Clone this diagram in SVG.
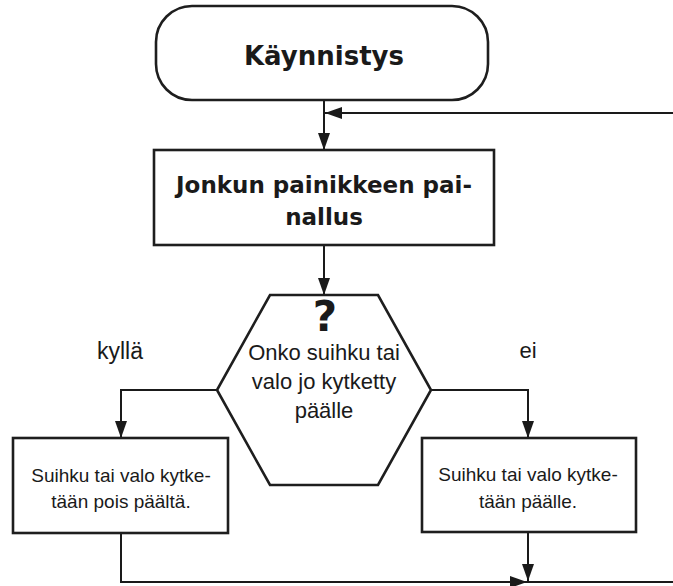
<svg xmlns="http://www.w3.org/2000/svg" width="673" height="586" viewBox="0 0 673 586">
  <style>
    .box { fill: #ffffff; stroke: #1e1e1e; stroke-width: 2.6; }
    .conn { fill: none; stroke: #1a1a1a; stroke-width: 2; }
    .bold { font-family: "DejaVu Sans", "Liberation Sans", sans-serif; font-weight: bold; fill: #1a1a1a; text-anchor: middle; }
    .reg { font-family: "Liberation Sans", "DejaVu Sans", sans-serif; fill: #1a1a1a; text-anchor: middle; }
  </style>
  <defs>
    <marker id="arrow" viewBox="0 0 17 12" refX="17" refY="6" markerWidth="17" markerHeight="12" markerUnits="userSpaceOnUse" orient="auto">
      <path d="M0,0 L17,6 L0,12 z" fill="#1a1a1a"/>
    </marker>
  </defs>
  <rect width="673" height="586" fill="#ffffff"/>

  <g id="connectors">
    <path class="conn" d="M324,100 V150" marker-end="url(#arrow)"/>
    <path class="conn" d="M673,113 H325" marker-end="url(#arrow)"/>
    <path class="conn" d="M324,245 V295" marker-end="url(#arrow)"/>
    <path class="conn" d="M217,390 H121 V438" marker-end="url(#arrow)"/>
    <path class="conn" d="M431,390 H528 V438" marker-end="url(#arrow)"/>
    <path class="conn" d="M121,533 V582 H527" marker-end="url(#arrow)"/>
    <path class="conn" d="M527,582 H673"/>
    <path class="conn" d="M528,532 V581" marker-end="url(#arrow)"/>
  </g>

  <g id="label-kylla">
    <text class="reg" x="120" y="359" font-size="23">kyllä</text>
  </g>
  <g id="label-ei">
    <text class="reg" x="528" y="358" font-size="22">ei</text>
  </g>

  <g id="start">
    <rect class="box" x="156" y="6" width="332" height="94" rx="36" ry="36"/>
    <text class="bold" x="324" y="65" font-size="26">Käynnistys</text>
  </g>

  <g id="press">
    <rect class="box" x="154" y="150" width="340" height="95"/>
    <text class="bold" x="324" y="193" font-size="23">Jonkun painikkeen pai-</text>
    <text class="bold" x="324" y="225" font-size="23">nallus</text>
  </g>

  <g id="decision">
    <polygon class="box" points="270,295 378,295 431,390 378,485 270,485 217,390"/>
    <text class="bold" x="325" y="331" font-size="42">?</text>
    <text class="reg" x="324" y="360" font-size="22">Onko suihku tai</text>
    <text class="reg" x="324" y="389" font-size="22">valo jo kytketty</text>
    <text class="reg" x="324" y="418" font-size="22">päälle</text>
  </g>

  <g id="off">
    <rect class="box" x="13" y="438" width="215" height="95"/>
    <text class="reg" x="121" y="482" font-size="19">Suihku tai valo kytke-</text>
    <text class="reg" x="121" y="508" font-size="19">tään pois päältä.</text>
  </g>

  <g id="on">
    <rect class="box" x="422" y="438" width="214" height="94"/>
    <text class="reg" x="528" y="481" font-size="19">Suihku tai valo kytke-</text>
    <text class="reg" x="528" y="508" font-size="19">tään päälle.</text>
  </g>
</svg>
